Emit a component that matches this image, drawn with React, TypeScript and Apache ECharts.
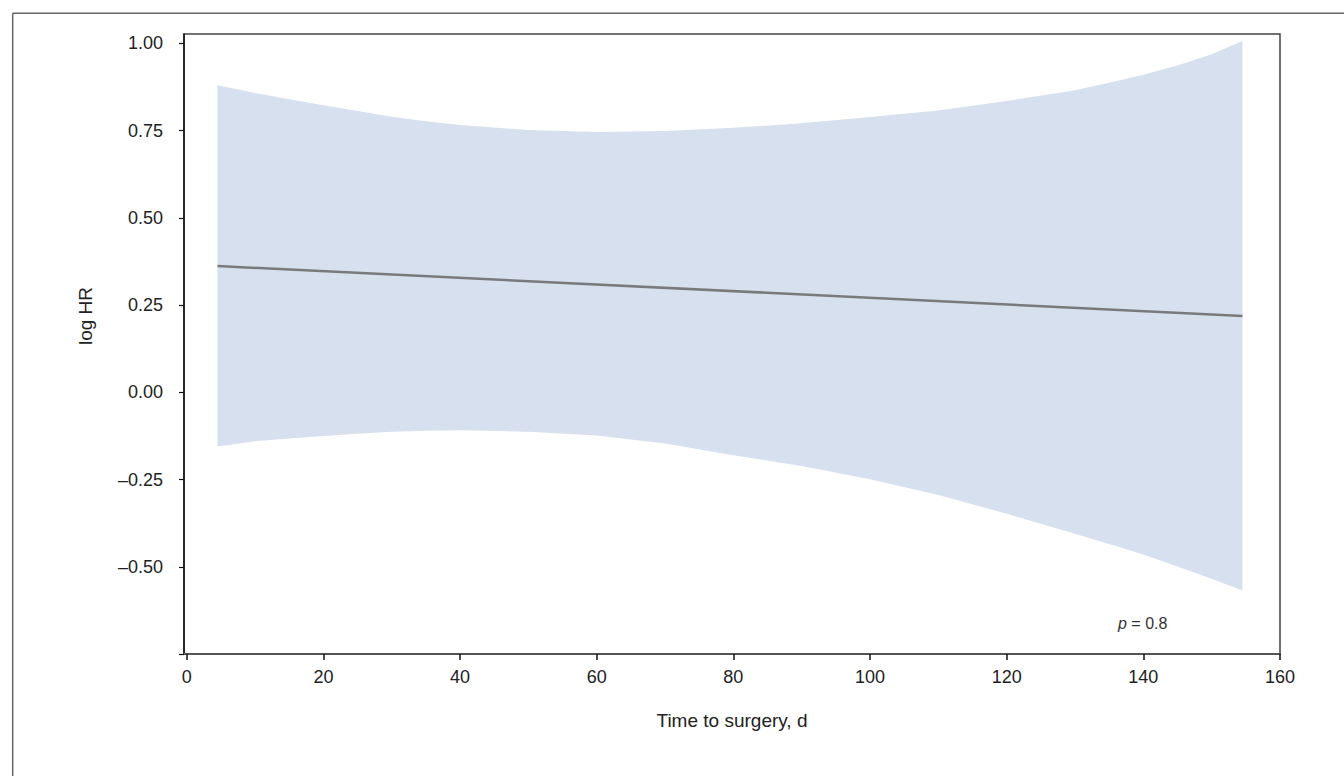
import React, { useEffect, useRef } from "react";
import * as echarts from "echarts";

const days = [4.5, 10, 15, 20, 25, 30, 35, 40, 50, 60, 70, 80, 90, 100, 110, 120, 130, 135, 140, 145, 150, 154.5];
const upperCI = [0.88, 0.858, 0.84, 0.823, 0.806, 0.79, 0.777, 0.766, 0.752, 0.746, 0.749, 0.758, 0.771, 0.789, 0.808, 0.835, 0.866, 0.887, 0.91, 0.937, 0.969, 1.007];
const lowerCI = [-0.155, -0.14, -0.132, -0.125, -0.119, -0.113, -0.11, -0.109, -0.113, -0.124, -0.147, -0.18, -0.211, -0.249, -0.294, -0.348, -0.405, -0.435, -0.465, -0.499, -0.534, -0.568];
const fitDays = [4.5, 154.5];
const fitLogHR = [0.362, 0.219];
const xTicks = [0, 20, 40, 60, 80, 100, 120, 140, 160];
const yTicks = [-0.75, -0.5, -0.25, 0, 0.25, 0.5, 0.75, 1.0];
const yLabels = [-0.5, -0.25, 0, 0.25, 0.5, 0.75, 1.0];

const FONT = "'Liberation Sans', Arial, Helvetica, sans-serif";

export default function App() {
  const ref = useRef<HTMLDivElement>(null);
  useEffect(() => {
    if (!ref.current) return;
    const chart = echarts.init(ref.current, null, { renderer: "svg" });
    const option: any = {
      animation: false,
      backgroundColor: "#ffffff",
      grid: {
        left: 184,
        right: 64,
        top: 34,
        bottom: 122,
        show: true,
        borderColor: "#444",
        borderWidth: 1.5,
        backgroundColor: "transparent",
      },
      xAxis: {
        type: "value",
        min: -0.4,
        max: 160,
        name: "Time to surgery, d",
        nameLocation: "middle",
        nameGap: 57,
        nameTextStyle: { fontFamily: FONT, fontSize: 19, color: "#222" },
        axisLine: { show: true, onZero: false, lineStyle: { color: "#555", width: 2 } },
        axisTick: { show: true, length: 6, customValues: xTicks, lineStyle: { color: "#111", width: 1.5 } },
        axisLabel: { customValues: xTicks, margin: 14, fontFamily: FONT, fontSize: 18, color: "#222" },
        splitLine: { show: false },
      },
      yAxis: {
        type: "value",
        min: -0.75,
        max: 1.027,
        axisLine: { show: true, onZero: false, lineStyle: { color: "#111", width: 1.5 } },
        axisTick: { show: true, length: 5, customValues: yTicks, lineStyle: { color: "#111", width: 1.2 } },
        axisLabel: {
          customValues: yLabels,
          margin: 21,
          fontFamily: FONT,
          fontSize: 18,
          color: "#222",
          formatter: (v: number) => (v < 0 ? "\u2013" + Math.abs(v).toFixed(2) : v.toFixed(2)),
        },
        splitLine: { show: false },
      },
      series: [
        {
          name: "95% CI",
          type: "custom",
          silent: true,
          clip: true,
          data: days.map((d, i) => [d, lowerCI[i], upperCI[i]]),
          encode: { x: 0, y: [1, 2] },
          renderItem: (params: any, api: any) => {
            if (params.dataIndex !== 0) return null;
            const top = days.map((d, i) => api.coord([d, upperCI[i]]));
            const bottom = days.map((d, i) => api.coord([d, lowerCI[i]])).reverse();
            return {
              type: "polygon",
              shape: { points: top.concat(bottom) },
              style: { fill: "#d7e0ee", stroke: "none" },
            };
          },
          z: 1,
        },
        {
          name: "fit",
          type: "line",
          symbol: "none",
          lineStyle: { color: "#7a7a7a", width: 2.5 },
          data: fitDays.map((d, i) => [d, fitLogHR[i]]),
          z: 3,
        },
      ],
      graphic: [
        {
          type: "line",
          shape: { x1: 12.7, y1: 13.3, x2: 1344, y2: 13.3 },
          style: { stroke: "#666", lineWidth: 1.5 },
          silent: true,
        },
        {
          type: "line",
          shape: { x1: 12.7, y1: 13.3, x2: 12.7, y2: 776 },
          style: { stroke: "#666", lineWidth: 1.5 },
          silent: true,
        },
        {
          type: "text",
          x: 85,
          y: 316,
          rotation: Math.PI / 2,
          style: {
            text: "log HR",
            fontFamily: FONT,
            fontSize: 19,
            fill: "#222",
            align: "center",
            verticalAlign: "middle",
          },
          silent: true,
        },
        {
          type: "text",
          x: 1118,
          y: 623,
          style: {
            text: "{i|p} = 0.8",
            rich: { i: { fontStyle: "italic", fontFamily: FONT, fontSize: 16, fill: "#333" } },
            fontFamily: FONT,
            fontSize: 16,
            fill: "#333",
            verticalAlign: "middle",
            align: "left",
          },
          silent: true,
        },
      ],
    };
    chart.setOption(option);
    return () => chart.dispose();
  }, []);
  return (
    <div
      ref={ref}
      style={{ position: "fixed", left: 0, top: 0, width: 1344, height: 776, background: "#fff" }}
    />
  );
}
